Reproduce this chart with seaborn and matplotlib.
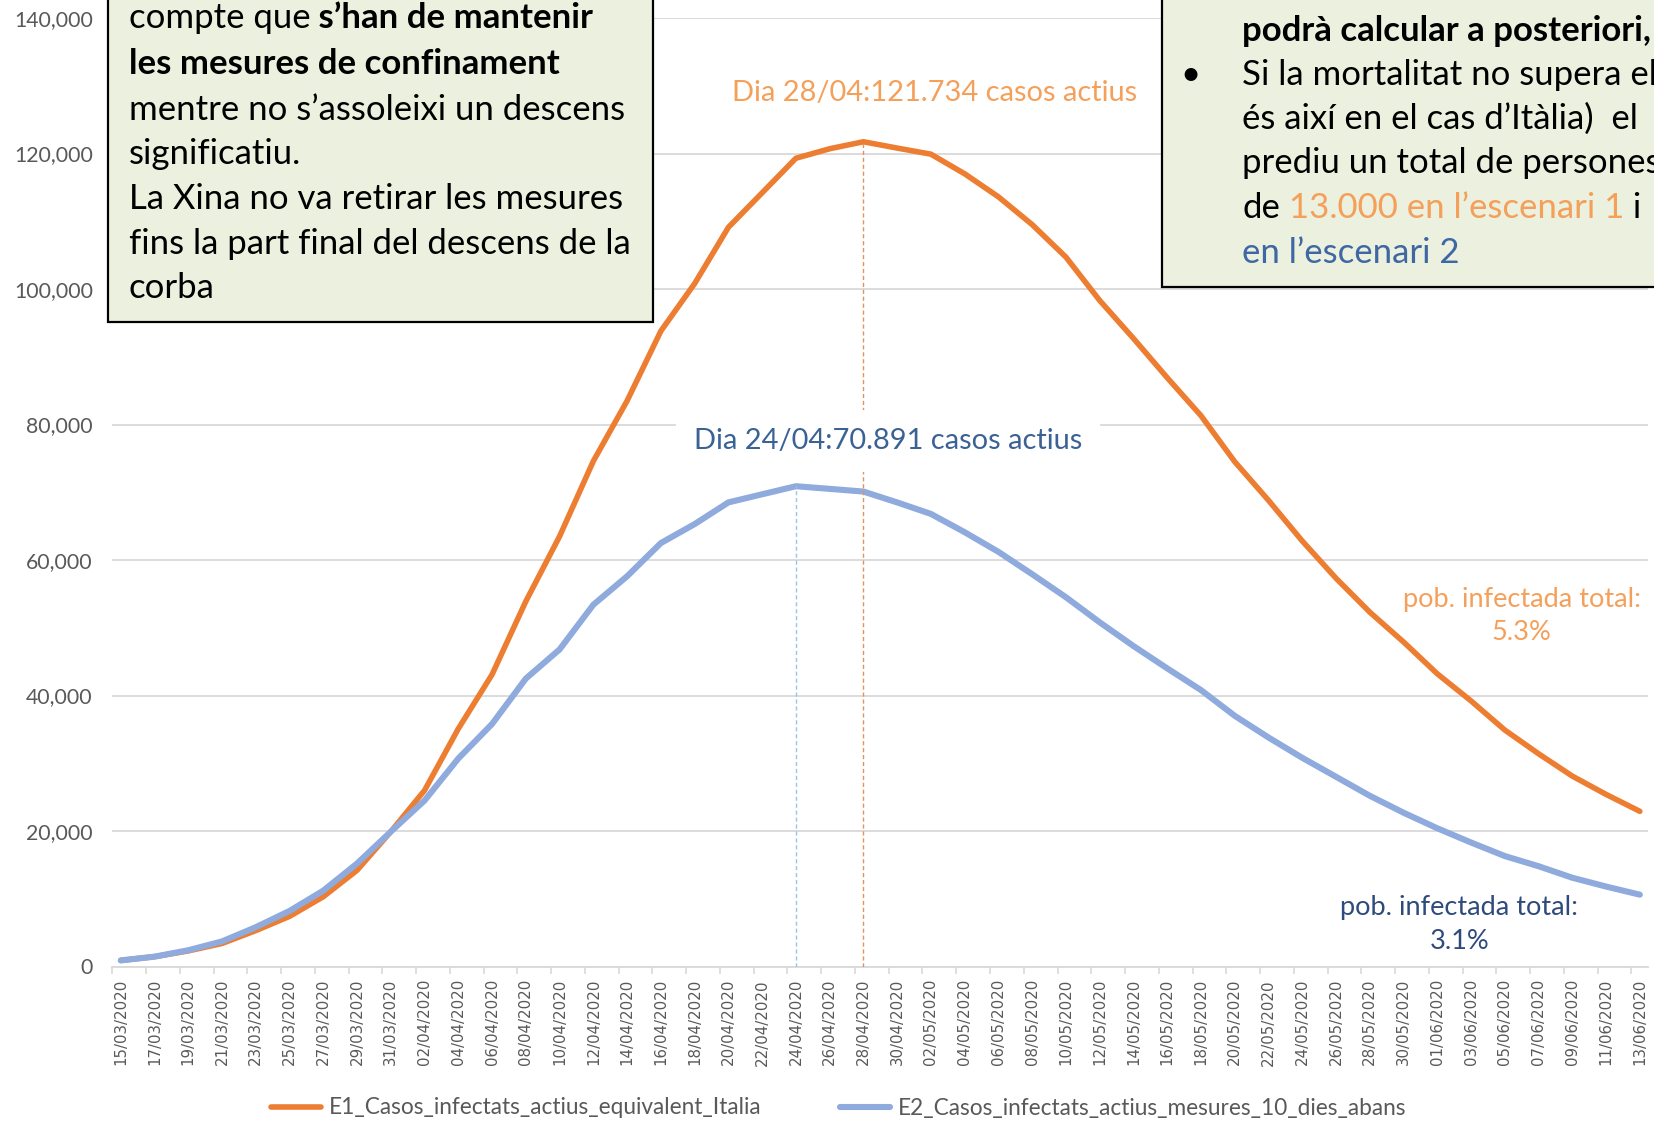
import numpy as np
import pandas as pd
import matplotlib
matplotlib.use("Agg")
import matplotlib.pyplot as plt
from matplotlib.patches import Rectangle
from matplotlib.lines import Line2D
import seaborn as sns

# ---------------- data ----------------
dates = pd.date_range("2020-03-15", "2020-06-13", freq="2D")
e1_values = [900, 1450, 2300, 3400, 5300, 7400, 10300, 14200, 19900, 26000,
             35100, 43100, 53900, 63500, 74600, 83500, 93800, 100800, 109100, 114200,
             119300, 120700, 121734, 120800, 119900, 117000, 113600, 109500, 104700, 98300,
             92700, 86900, 81300, 74500, 68800, 62800, 57300, 52300, 47900, 43200,
             39200, 34900, 31400, 28100, 25400, 22900]
e2_values = [900, 1450, 2400, 3700, 5800, 8200, 11200, 15200, 19900, 24500,
             30700, 35800, 42500, 46800, 53400, 57600, 62500, 65300, 68500, 69700,
             70891, 70500, 70100, 68500, 66800, 64100, 61200, 57900, 54500, 50800,
             47300, 44000, 40800, 37000, 33800, 30800, 28000, 25200, 22700, 20400,
             18300, 16300, 14800, 13100, 11800, 10600]
series_names = ["E1_Casos_infectats_actius_equivalent_Italia",
                "E2_Casos_infectats_actius_mesures_10_dies_abans"]
y_ticks = [0, 20000, 40000, 60000, 80000, 100000, 120000, 140000]
x_labels = [d.strftime("%d/%m/%Y") for d in dates]
pob_e1 = "5.3%"
pob_e2 = "3.1%"

# ---------------- style ----------------
sns.set_theme(style="white")
plt.rcParams["font.family"] = ["Lato", "DejaVu Sans"]

ORANGE = "#ED7D31"
BLUE = "#8FAADC"
ORANGE_TXT = "#F4A05A"
BLUE_TXT = "#3A6294"
NAVY_TXT = "#2F4B7C"
GRID = "#D9D9D9"
TICK_TXT = "#595959"

W, H = 1654, 1121
fig = plt.figure(figsize=(W / 100, H / 100), dpi=100)


def fx(px):
    return px / W


def fy(py):
    return 1 - py / H


ax = fig.add_axes([fx(112.3), fy(966.5), fx(1536), (966.5 - 18) / H])

df = pd.DataFrame({
    "data": list(dates) * 2,
    "casos": e1_values + e2_values,
    "serie": [series_names[0]] * len(dates) + [series_names[1]] * len(dates),
})
palette = {series_names[0]: ORANGE, series_names[1]: BLUE}
sns.lineplot(data=df, x="data", y="casos", hue="serie", palette=palette,
             ax=ax, legend=False, sort=False, linewidth=4.1)
for ln, lw in zip(ax.lines, [4.0, 4.4]):
    ln.set_linewidth(lw)
    ln.set_solid_joinstyle("round")
    ln.set_solid_capstyle("round")

ax.set_xlim(dates[0] - pd.Timedelta(hours=12), dates[-1] + pd.Timedelta(hours=12))
ax.set_ylim(0, 140000)
ax.set_xlabel("")
ax.set_ylabel("")

ax.set_xticks(dates)
ax.set_xticklabels(x_labels, rotation=90, fontfamily="DejaVu Sans",
                   fontsize=10.8, color=TICK_TXT)
ax.set_xticks([d - pd.Timedelta(hours=12) for d in dates], minor=True)
ax.tick_params(axis="x", which="major", length=0, pad=9, bottom=True)
ax.tick_params(axis="x", which="minor", length=5, width=1.2, color=GRID,
               direction="out", bottom=True)

ax.set_yticks(y_ticks)
ax.set_yticklabels([f"{v:,}" for v in y_ticks], fontsize=15.3, color=TICK_TXT)
ax.tick_params(axis="y", length=0, pad=14)

ax.grid(axis="y", color=GRID, linewidth=1.3)
ax.grid(axis="x", visible=False)
ax.set_axisbelow(True)
for s in ["top", "right", "left"]:
    ax.spines[s].set_visible(False)
ax.spines["bottom"].set_color(GRID)
ax.spines["bottom"].set_linewidth(1.3)

# peak dashed lines
i1 = int(np.argmax(e1_values))
i2 = int(np.argmax(e2_values))
ax.vlines(dates[i1], 0, e1_values[i1], colors="#E3925C", linestyles=(0, (3, 2)),
          linewidth=1.0, zorder=3)
ax.vlines(dates[i2], 0, e2_values[i2], colors="#9DC3E6", linestyles=(0, (3, 2)),
          linewidth=1.0, zorder=3)

d0 = dates[0]
lab1 = f"Dia {dates[i1]:%d/%m}:{e1_values[i1]:,}".replace(",", ".") + " casos actius"
lab2 = f"Dia {dates[i2]:%d/%m}:{e2_values[i2]:,}".replace(",", ".") + " casos actius"
ax.text(d0 + pd.Timedelta(days=48.2), 129000, lab1, ha="center", va="center",
        fontsize=20.9, color=ORANGE_TXT, zorder=4)
ax.text(d0 + pd.Timedelta(days=45.45), 77600, lab2, ha="center", va="center",
        fontsize=20.9, color=BLUE_TXT, zorder=4,
        bbox=dict(facecolor="white", edgecolor="none", pad=13))

ax.text(d0 + pd.Timedelta(days=83.0), 51700, "pob. infectada total:\n" + pob_e1,
        ha="center", va="center", fontsize=19.5, color=ORANGE_TXT,
        linespacing=1.42, zorder=4)
ax.text(d0 + pd.Timedelta(days=79.3), 6200, "pob. infectada total:\n" + pob_e2,
        ha="center", va="center", fontsize=19.5, color=NAVY_TXT,
        linespacing=1.42, zorder=4)

# ---------------- text boxes ----------------
BOX_FC = "#EBF1DE"
ax.add_patch(Rectangle((fx(108.5), fy(321.7)), fx(652.7 - 108.5), 0.4,
                       transform=fig.transFigure, facecolor=BOX_FC,
                       edgecolor="black", linewidth=1.6, clip_on=False, zorder=10))
ax.add_patch(Rectangle((fx(1162), fy(287)), 0.4, 0.4,
                       transform=fig.transFigure, facecolor=BOX_FC,
                       edgecolor="black", linewidth=1.6, clip_on=False, zorder=10))

BOX_FS = 25


def rich_line(xpx, ypx, segments):
    txt, color, weight = segments[0]
    prev = ax.text(fx(xpx), fy(ypx), txt, transform=fig.transFigure,
                   fontsize=BOX_FS, color=color, fontweight=weight,
                   ha="left", va="center", zorder=11, clip_on=False)
    for txt, color, weight in segments[1:]:
        prev = ax.annotate(txt, xy=(1, 0), xycoords=prev, ha="left", va="bottom",
                           fontsize=BOX_FS, color=color, fontweight=weight,
                           zorder=11, annotation_clip=False)


K = "black"
left_lines = [
    [("compte que", K, "normal"), (" s’han de mantenir", K, "bold")],
    [("les mesures de confinament", K, "bold")],
    [("mentre no s’assoleixi un descens", K, "normal")],
    [("significatiu.", K, "normal")],
    [("La Xina no va retirar les mesures", K, "normal")],
    [("fins la part final del descens de la", K, "normal")],
    [("corba", K, "normal")],
]
left_y = [18, 64.5, 109.5, 154, 199, 244, 288]
for y, segs in zip(left_y, left_lines):
    rich_line(128.6, y, segs)

right_lines = [
    [("podrà calcular a posteriori,", K, "bold")],
    [("Si la mortalitat no supera el", K, "normal")],
    [("és així en el cas d’Itàlia)  el", K, "normal")],
    [("prediu un total de persones", K, "normal")],
    [("de", K, "normal"), (" 13.000 en l’escenari 1", ORANGE_TXT, "normal"),
     (" i", K, "normal")],
    [("en l’escenari 2", "#3E67A3", "normal")],
]
right_y = [31, 75, 118.5, 163, 208, 253]
for y, segs in zip(right_y, right_lines):
    rich_line(1242, y, segs)
ax.text(fx(1190), fy(75), "•", transform=fig.transFigure, fontsize=BOX_FS,
        color=K, ha="center", va="center", zorder=11, clip_on=False)

# ---------------- legend ----------------
handles = [Line2D([], [], color=ORANGE, lw=4.0, solid_capstyle="round"),
           Line2D([], [], color=BLUE, lw=4.4, solid_capstyle="round")]
fig.legend(handles, series_names, loc="center", bbox_to_anchor=(0.507, fy(1108)),
           ncol=2, frameon=False, fontsize=16.3, handlelength=2.2,
           handletextpad=0.33, columnspacing=3.5, labelcolor=TICK_TXT)

fig.savefig("out.png", dpi=100)
